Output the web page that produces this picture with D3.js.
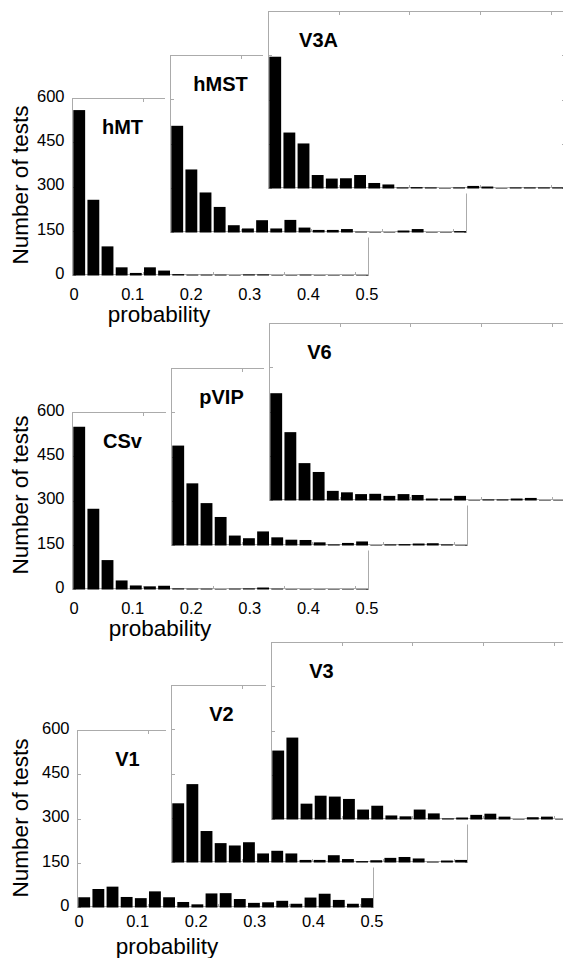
<!DOCTYPE html>
<html><head><meta charset="utf-8">
<script src="https://cdn.jsdelivr.net/npm/d3@7"></script>
<style>html,body{margin:0;padding:0;background:#fff;} svg{display:block;}</style>
</head><body>
<svg id="chart" width="563" height="958"></svg>
<script>
// ---------- data ----------
const binWidth = 0.025;          // histogram bin width (probability)
const binCount = 21;             // bins 0 .. 0.525
const frameTicksX = [0, 0.125, 0.25, 0.375, 0.5];
const yTicks = [0, 150, 300, 450, 600];
const xTickLabels = [0, 0.1, 0.2, 0.3, 0.4, 0.5];
const yTitle = "Number of tests";
const xTitle = "probability";

const groupNames = [["hMT", "hMST", "V3A"], ["CSv", "pVIP", "V6"], ["V1", "V2", "V3"]];

const hMT  = [559, 255, 97, 26, 7, 26, 15, 3, 1, 1, 1, 0, 2, 2, 0, 0, 1, 0, 0, 0, 0];
const hMST = [360, 212, 134, 85, 23, 12, 40, 12, 41, 15, 7, 7, 10, 1, 0, 0, 5, 10, 0, 0, 3];
const V3A  = [445, 188, 151, 44, 32, 33, 44, 17, 12, 2, 3, 2, 0, 2, 7, 5, 0, 2, 2, 2, 2];
const CSv  = [550, 272, 98, 29, 12, 9, 11, 2, 1, 1, 0, 1, 2, 5, 1, 0, 0, 0, 0, 0, 0];
const pVIP = [337, 209, 142, 95, 32, 23, 46, 26, 18, 17, 9, 2, 7, 12, 0, 2, 3, 5, 6, 2, 0];
const V6   = [362, 230, 125, 95, 31, 26, 20, 21, 14, 20, 17, 5, 5, 14, 0, 2, 2, 5, 7, 0, 0];
const V1   = [33, 61, 69, 34, 30, 53, 33, 17, 9, 46, 47, 27, 14, 16, 21, 11, 32, 45, 24, 11, 30];
const V2   = [199, 264, 105, 64, 56, 67, 29, 38, 29, 7, 7, 23, 10, 3, 6, 14, 17, 12, 1, 5, 7];
const V3   = [232, 276, 52, 79, 76, 68, 32, 45, 12, 9, 32, 19, 2, 5, 14, 18, 8, 0, 6, 8, 0];

const seriesByName = {hMT, hMST, V3A, CSv, pVIP, V6, V1, V2, V3};

// ---------- layout (pixels) ----------
const W = 297, H = 177;
const layout = [
  {panels: [[72, 275], [170, 232], [268, 188]], yTitleY: 185, xLabBase: 24.5, xTitleX: 159, xTitleBase: 46.5},
  {panels: [[72, 589], [171, 545], [269, 500]], yTitleY: 495, xLabBase: 25, xTitleX: 160, xTitleBase: 47},
  {panels: [[77, 907], [171, 862], [271, 819]], yTitleY: 818, xLabBase: 20, xTitleX: 167, xTitleBase: 47}
];
const FONT = "'Liberation Sans', Arial, Helvetica, sans-serif";
const frameColor = "#ababab";

const svg = d3.select("#chart");
const x = d3.scaleLinear().domain([0, binWidth * binCount]).range([0, W]);
const y = d3.scaleLinear().domain([0, 600]).range([H, 0]);
const xLab = d3.scaleLinear().domain([0, 0.5]).range([1.5, 294.5]);
const bins = d3.range(binCount).map(i => i * binWidth);

layout.forEach((grp, gi) => {
  grp.panels.forEach(([px, base], pi) => {
    const name = groupNames[gi][pi];
    const vals = seriesByName[name];
    const g = svg.append("g").attr("transform", `translate(${px},${base - H})`);

    // white panel background (covers panels behind)
    g.append("rect").attr("x", -5).attr("y", -2).attr("width", W + 7).attr("height", H + 7.5)
      .attr("fill", "#fff");

    // frame
    g.append("rect").attr("x", 0.5).attr("y", 0.5).attr("width", W - 1).attr("height", H - 1)
      .attr("fill", "none").attr("stroke", frameColor).attr("stroke-width", 1)
      .attr("shape-rendering", "crispEdges");

    // inner ticks on all four sides
    const tickStyle = sel => {
      sel.select(".domain").remove();
      sel.selectAll("line").attr("stroke", frameColor).attr("shape-rendering", "crispEdges");
    };
    g.append("g").call(d3.axisTop(x).tickValues(frameTicksX).tickSize(-3.5).tickFormat("")).call(tickStyle);
    g.append("g").attr("transform", `translate(0,${H})`)
      .call(d3.axisBottom(x).tickValues(frameTicksX).tickSize(-3.5).tickFormat("")).call(tickStyle);
    g.append("g").call(d3.axisLeft(y).tickValues(yTicks).tickSize(-3.5).tickFormat("")).call(tickStyle);
    g.append("g").attr("transform", `translate(${W},0)`)
      .call(d3.axisRight(y).tickValues(yTicks).tickSize(-3.5).tickFormat("")).call(tickStyle);

    // bars
    g.append("g").selectAll("rect").data(bins.map((b, i) => ({b, v: vals[i]})))
      .join("rect")
      .attr("x", d => x(d.b) + 1.3)
      .attr("width", x(binWidth) - x(0) - 2.3)
      .attr("y", d => y(d.v))
      .attr("height", d => Math.max(0, H - y(d.v)) + 0.5)
      .attr("fill", "#000");

    // panel title
    g.append("text").attr("x", 50.5).attr("y", 36).attr("text-anchor", "middle")
      .attr("font-family", FONT).attr("font-weight", "bold").attr("font-size", 20)
      .attr("fill", "#000").text(name);

    // front panel carries the axis labels
    if (pi === 0) {
      const ya = g.append("g").call(d3.axisLeft(y).tickValues(yTicks).tickSize(0).tickPadding(7.5));
      ya.select(".domain").remove();
      ya.selectAll("text").attr("font-family", FONT).attr("font-size", 16.5).attr("fill", "#000")
        .attr("transform", "translate(0,-2)");

      const xa = g.append("g").attr("transform", `translate(0,${H})`)
        .call(d3.axisBottom(xLab).tickValues(xTickLabels).tickSize(0).tickFormat(d3.format("")));
      xa.select(".domain").remove();
      xa.selectAll("text").attr("font-family", FONT).attr("font-size", 16.5).attr("fill", "#000")
        .attr("y", grp.xLabBase).attr("dy", 0);

      svg.append("text")
        .attr("transform", `translate(28,${grp.yTitleY}) rotate(-90)`)
        .attr("text-anchor", "middle").attr("font-family", FONT).attr("font-size", 22.5)
        .attr("fill", "#000").text(yTitle);

      svg.append("text")
        .attr("x", grp.xTitleX).attr("y", base + grp.xTitleBase)
        .attr("text-anchor", "middle").attr("font-family", FONT).attr("font-size", 22.5)
        .attr("fill", "#000").text(xTitle);
    }
  });
});
</script>
</body></html>
